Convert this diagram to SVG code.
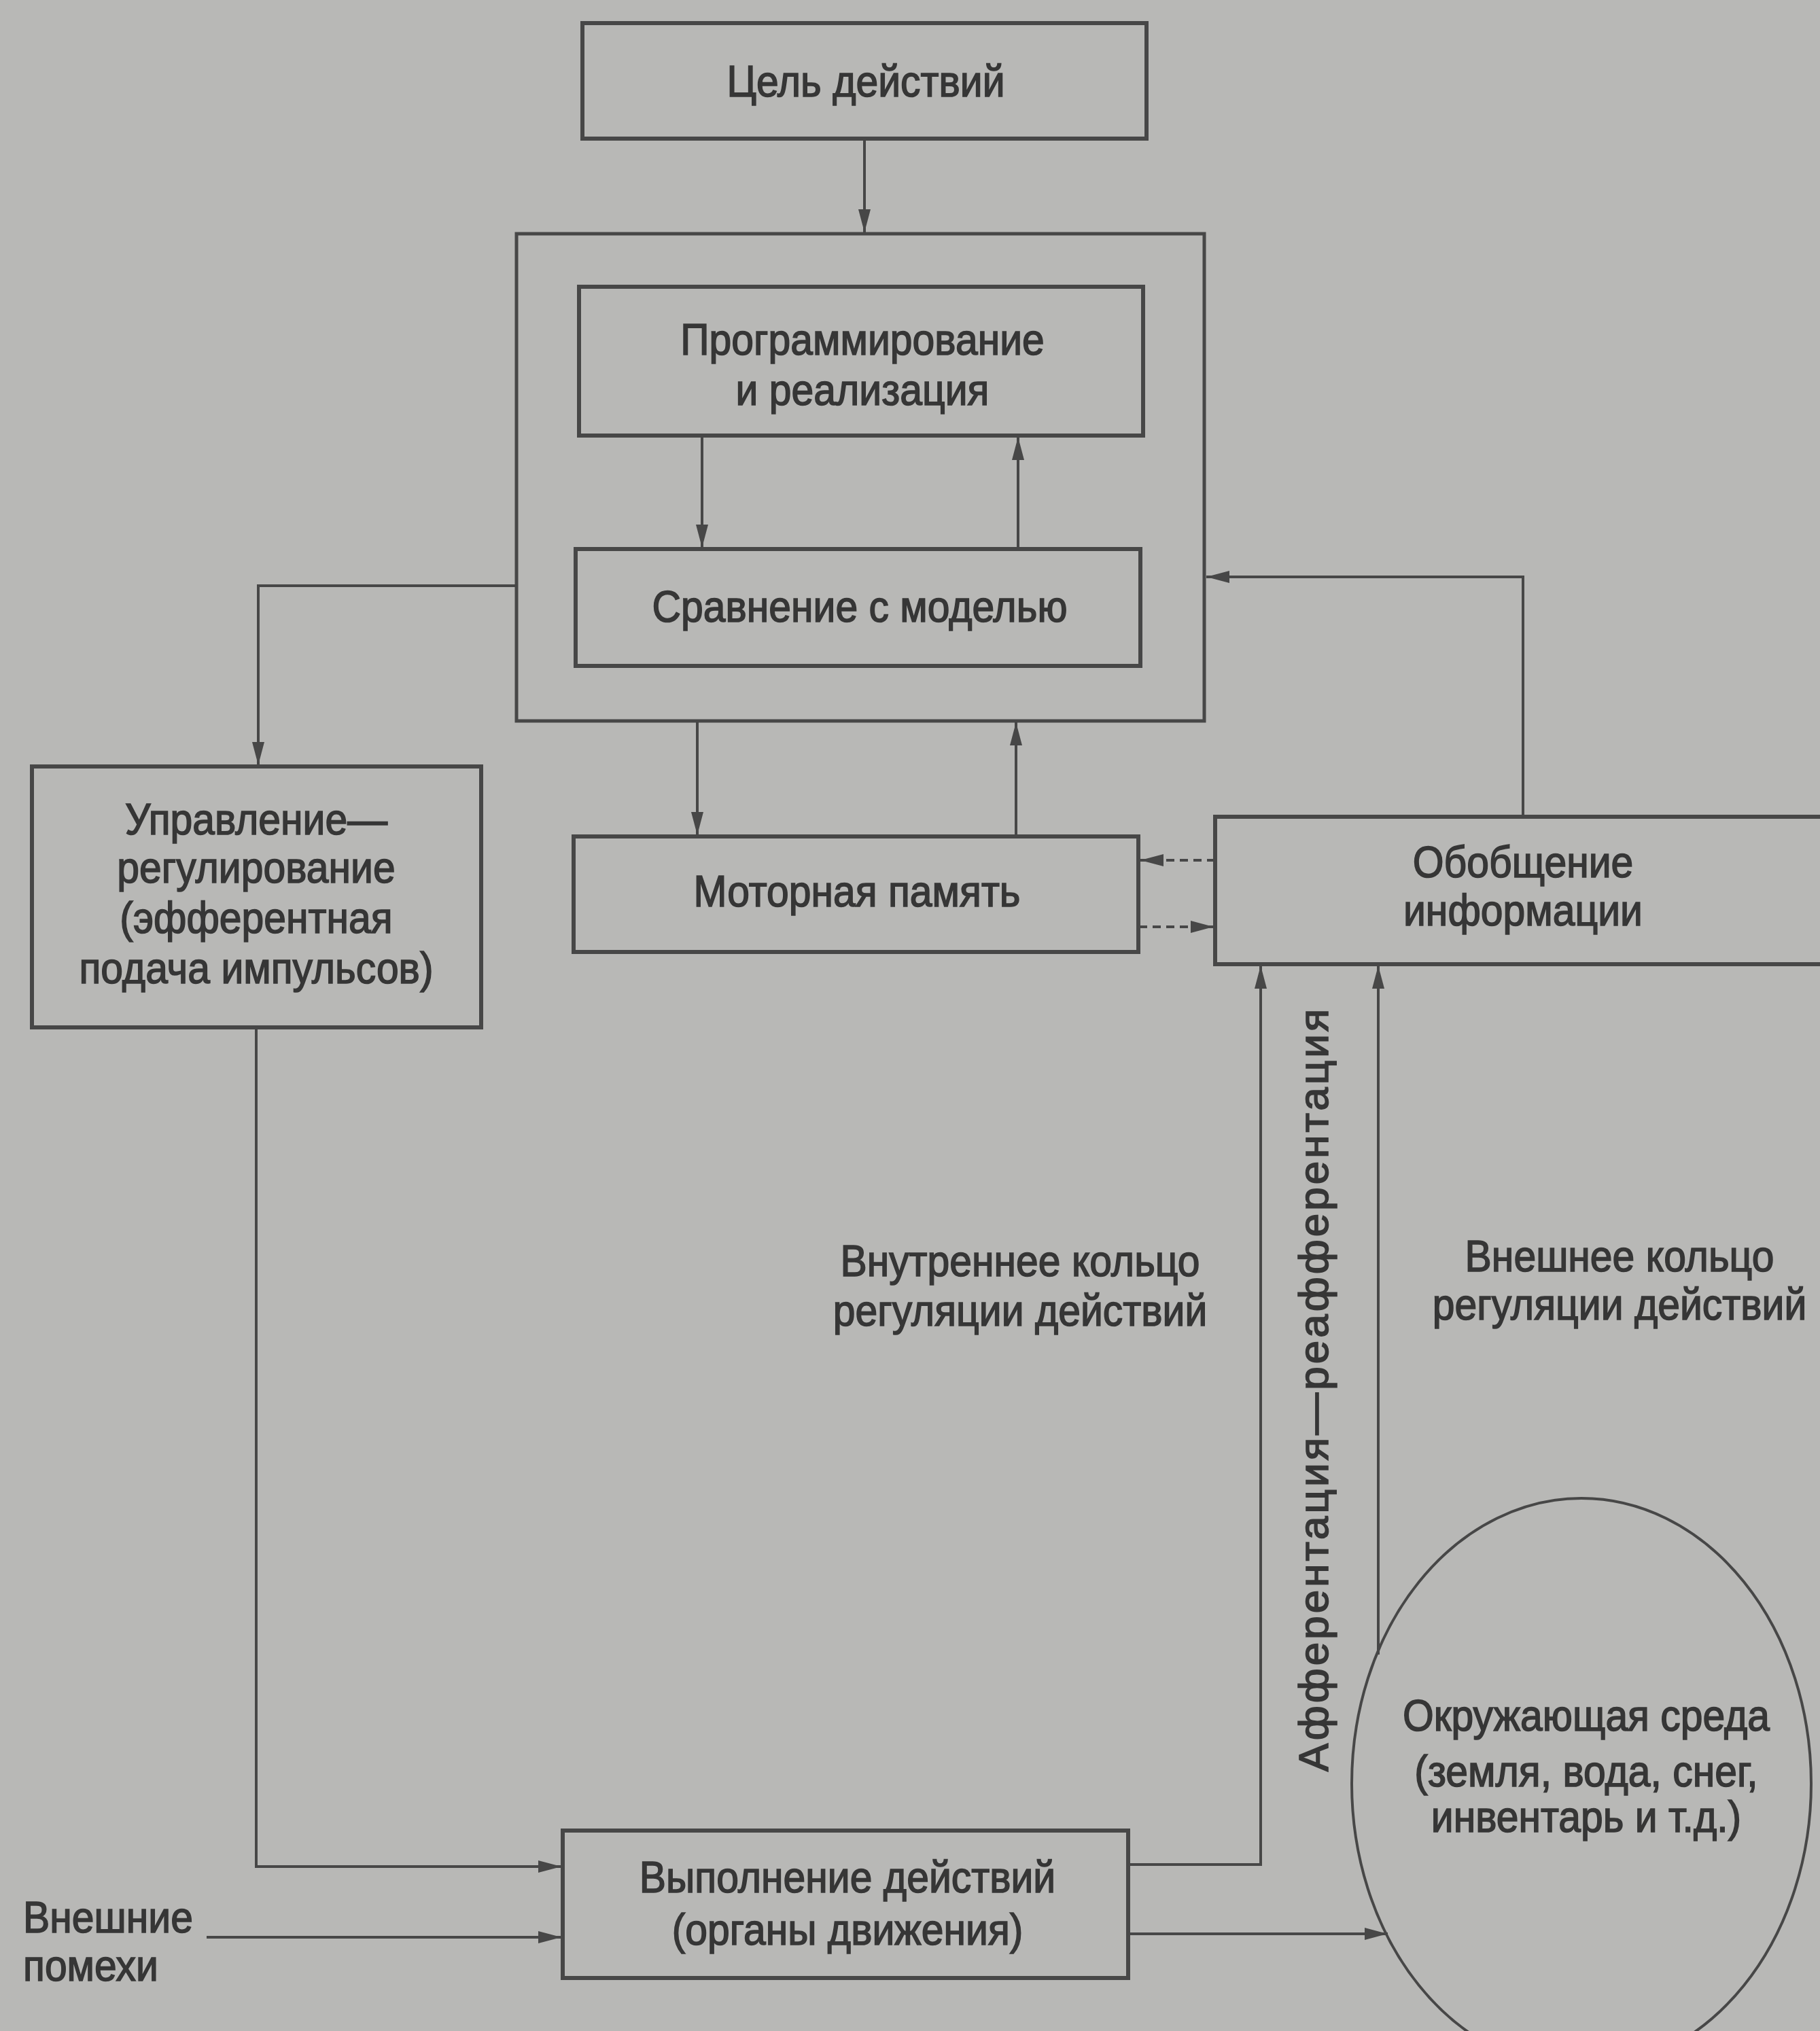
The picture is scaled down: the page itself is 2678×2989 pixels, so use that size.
<svg xmlns="http://www.w3.org/2000/svg" width="2678" height="2989" viewBox="0 0 2678 2989">
<style>
.bg{fill:#b8b8b6}
.box{fill:none;stroke:#474747;stroke-width:6}
.outer{fill:none;stroke:#474747;stroke-width:5}
.t{font-family:"Liberation Sans",Arial,sans-serif;font-size:64px;fill:#363636;stroke:#363636;stroke-width:1.6px;text-anchor:middle}
.tl{font-family:"Liberation Sans",Arial,sans-serif;font-size:64px;fill:#363636;stroke:#363636;stroke-width:1.6px;text-anchor:start}
.v{font-family:"Liberation Sans",Arial,sans-serif;font-size:62px;letter-spacing:4px;fill:#363636;stroke:#363636;stroke-width:1.6px;text-anchor:middle}
.c{fill:none;stroke:#474747;stroke-width:4;marker-end:url(#ah)}
.d{fill:none;stroke:#474747;stroke-width:4;stroke-dasharray:12 8;marker-end:url(#ah)}
</style>
<defs>
<marker id="ah" markerUnits="userSpaceOnUse" markerWidth="34" markerHeight="18" refX="34" refY="9" orient="auto">
<path d="M0,0 L34,9 L0,18 Z" fill="#474747"/>
</marker>
</defs>
<rect class="bg" x="0" y="0" width="2678" height="2989"/>

<g id="connectors">
<path class="c" d="M1272,205 V342"/>
<path class="c" d="M1033,641 V806"/>
<path class="c" d="M1498,808 V643"/>
<path class="c" d="M1026,1061 V1229"/>
<path class="c" d="M1495,1231 V1063"/>
<path class="c" d="M760,862 H380 V1126"/>
<path class="c" d="M377,1512 V2747 H826"/>
<path class="c" d="M304,2851 H826"/>
<path class="c" d="M1660,2846 H2042"/>
<path class="c" d="M1660,2744 H1855 V1421"/>
<path class="c" d="M2028,2435 V1421"/>
<path class="c" d="M2241,1202 V849 H1775"/>
<path class="d" d="M1788,1266 H1678"/>
<path class="d" d="M1676,1364 H1786"/>
</g>

<g id="goal">
<rect class="box" x="857" y="34" width="830" height="170"/>
<text class="t" transform="translate(1274,142) scale(0.92,1)">Цель действий</text>
</g>

<g id="block">
<rect class="outer" x="760" y="344" width="1012" height="717"/>
</g>

<g id="programming">
<rect class="box" x="852" y="422" width="830" height="219"/>
<text class="t" transform="translate(1269,522) scale(0.92,1)">Программирование</text>
<text class="t" transform="translate(1269,596) scale(0.92,1)">и реализация</text>
</g>

<g id="comparison">
<rect class="box" x="847" y="808" width="831" height="172"/>
<text class="t" transform="translate(1265,915) scale(0.92,1)">Сравнение с моделью</text>
</g>

<g id="control">
<rect class="box" x="47" y="1128" width="661" height="384"/>
<text class="t" transform="translate(377,1228) scale(0.92,1)">Управление—</text>
<text class="t" transform="translate(377,1299) scale(0.92,1)">регулирование</text>
<text class="t" transform="translate(377,1373) scale(0.92,1)">(эфферентная</text>
<text class="t" transform="translate(377,1447) scale(0.92,1)">подача импульсов)</text>
</g>

<g id="motor">
<rect class="box" x="844" y="1231" width="831" height="170"/>
<text class="t" transform="translate(1261,1334) scale(0.92,1)">Моторная память</text>
</g>

<g id="generalization">
<rect class="box" x="1788" y="1202" width="920" height="217"/>
<text class="t" transform="translate(2241,1291) scale(0.92,1)">Обобщение</text>
<text class="t" transform="translate(2241,1362) scale(0.92,1)">информации</text>
</g>

<g id="execution">
<rect class="box" x="828" y="2694" width="832" height="217"/>
<text class="t" transform="translate(1247,2785) scale(0.92,1)">Выполнение действий</text>
<text class="t" transform="translate(1247,2862) scale(0.92,1)">(органы движения)</text>
</g>

<g id="environment">
<ellipse cx="2327" cy="2625" rx="338" ry="420" fill="none" stroke="#474747" stroke-width="4"/>
<text class="t" transform="translate(2334,2547) scale(0.92,1)">Окружающая среда</text>
<text class="t" transform="translate(2334,2629) scale(0.92,1)">(земля, вода, снег,</text>
<text class="t" transform="translate(2334,2696) scale(0.92,1)">инвентарь и т.д.)</text>
</g>

<g id="disturbance">
<text class="tl" transform="translate(34,2844) scale(0.92,1)">Внешние</text>
<text class="tl" transform="translate(34,2915) scale(0.92,1)">помехи</text>
</g>

<g id="inner-loop">
<text class="t" transform="translate(1501,1878) scale(0.92,1)">Внутреннее кольцо</text>
<text class="t" transform="translate(1501,1951) scale(0.92,1)">регуляции действий</text>
</g>

<g id="outer-loop">
<text class="t" transform="translate(2383,1871) scale(0.92,1)">Внешнее кольцо</text>
<text class="t" transform="translate(2383,1942) scale(0.92,1)">регуляции действий</text>
</g>

<g id="afferentation">
<text class="v" transform="translate(1954,2044) rotate(-90)">Афферентация—реафферентация</text>
</g>
</svg>
